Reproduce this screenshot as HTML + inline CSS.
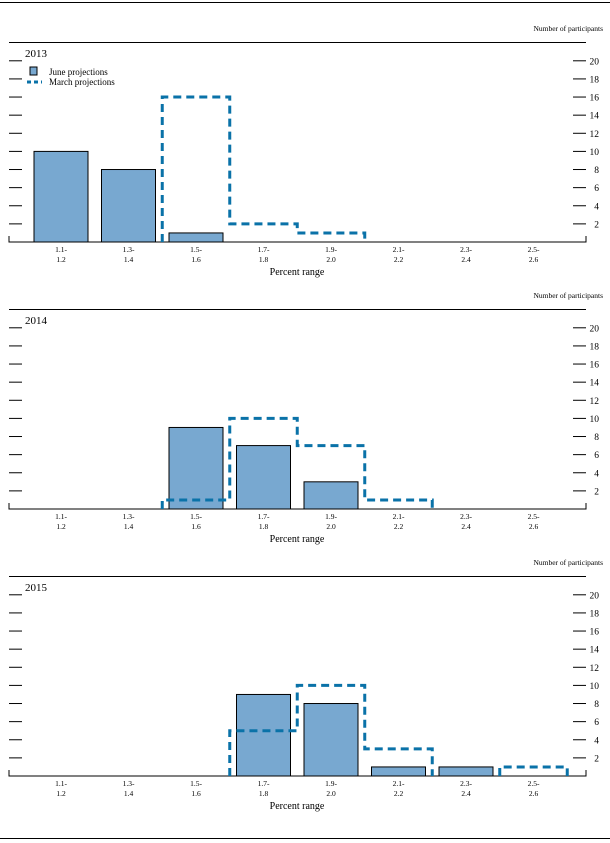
<!DOCTYPE html>
<html><head><meta charset="utf-8"><style>
body{margin:0;background:#fff;}
svg{display:block;font-family:"Liberation Serif",serif;}
</style></head><body>
<svg id="c" width="610" height="843"></svg>
<script>
const years = ["2013","2014","2015"];
const categories = [["1.1-","1.2"],["1.3-","1.4"],["1.5-","1.6"],["1.7-","1.8"],["1.9-","2.0"],["2.1-","2.2"],["2.3-","2.4"],["2.5-","2.6"]];
const juneValues = [[10,8,1,0,0,0,0,0],[0,0,9,7,3,0,0,0],[0,0,0,9,8,1,1,0]];
const marchValues = [[0,0,16,2,1,0,0,0],[0,0,1,10,7,1,0,0],[0,0,0,5,10,3,0,1]];
const yTicks = [2,4,6,8,10,12,14,16,18,20];

const NS="http://www.w3.org/2000/svg";
const svg=document.getElementById('c');
function el(tag,attrs,parent,text){const e=document.createElementNS(NS,tag);for(const k in attrs)e.setAttribute(k,attrs[k]);if(text!==undefined)e.textContent=text;(parent||svg).appendChild(e);return e;}
el('line',{x1:0,x2:610,y1:2.5,y2:2.5,stroke:'#000','stroke-width':1});
el('line',{x1:0,x2:610,y1:838.5,y2:838.5,stroke:'#000','stroke-width':1});
const x0=61, dx=67.5, barW=54, unit=9.06;
const xc=i=>x0+i*dx;
years.forEach((yr,p)=>{
  const off=p*267;
  const base=242+off;
  const y=v=>base-v*unit;
  const g=el('g',{});
  
  
  const t=el('text',{x:603,y:31+off,'font-size':7.5,'text-anchor':'end'},g,'Number of participants');
  
  el('line',{x1:9,x2:586,y1:42.5+off,y2:42.5+off,stroke:'#000','stroke-width':1},g);
  const yl=el('text',{x:25,y:57+off,'font-size':11},g,yr);
  
  yTicks.forEach(v=>{
    el('line',{x1:9,x2:22,y1:y(v),y2:y(v),stroke:'#000','stroke-width':1},g);
    el('line',{x1:573,x2:586,y1:y(v),y2:y(v),stroke:'#000','stroke-width':1},g);
    const tl=el('text',{x:599,y:y(v)+3.5,'font-size':9.5,'text-anchor':'end'},g,String(v));
    
  });
  el('polyline',{points:`9,${base-6} 9,${base} 586,${base} 586,${base-6}`,fill:'none',stroke:'#000','stroke-width':1},g);
  categories.forEach((c,i)=>{
    el('text',{x:xc(i),y:base+10,'font-size':7.5,'text-anchor':'middle'},g,c[0]);
    const l2=el('text',{x:xc(i),y:base+20,'font-size':7.5,'text-anchor':'middle'},g,c[1]);
    
  });
  const xt=el('text',{x:297,y:base+33,'font-size':10,'text-anchor':'middle'},g,'Percent range');
  
  juneValues[p].forEach((v,i)=>{
    if(v<=0)return;
    const r=el('rect',{x:xc(i)-barW/2,y:y(v),width:barW,height:v*unit,fill:'#78a8d0',stroke:'#000','stroke-width':1},g);
    
  });
  // march dashed step outline per contiguous run
  const mv=marchValues[p];
  let i=0;
  while(i<mv.length){
    if(mv[i]<=0){i++;continue;}
    let pts=[];let xs=xc(i)-dx/2;
    pts.push([xs,base]);
    while(i<mv.length&&mv[i]>0){
      const l=xc(i)-dx/2,r=xc(i)+dx/2;
      pts.push([l,y(mv[i])]);pts.push([r,y(mv[i])]);
      i++;
    }
    pts.push([pts[pts.length-1][0],base]);
    // convert to step path
    let d='M'+pts[0][0]+','+pts[0][1];
    for(let k=1;k<pts.length;k++){d+=' L'+pts[k][0]+','+pts[k][1];}
    const path=el('path',{d:d,fill:'none',stroke:'#0a72a8','stroke-width':3,'stroke-dasharray':'8,5'},g);
    
  }
  if(p===0){
    const lg=el('g',{},g);
    
    el('rect',{x:30,y:67,width:7,height:8,fill:'#78a8d0',stroke:'#000','stroke-width':1},lg);
    el('text',{x:49,y:75,'font-size':9},lg,'June projections');
    el('line',{x1:27,x2:42,y1:82,y2:82,stroke:'#0a72a8','stroke-width':3,'stroke-dasharray':'4,3'},lg);
    el('text',{x:49,y:85,'font-size':9},lg,'March projections');
  }
});
</script>
</body></html>
